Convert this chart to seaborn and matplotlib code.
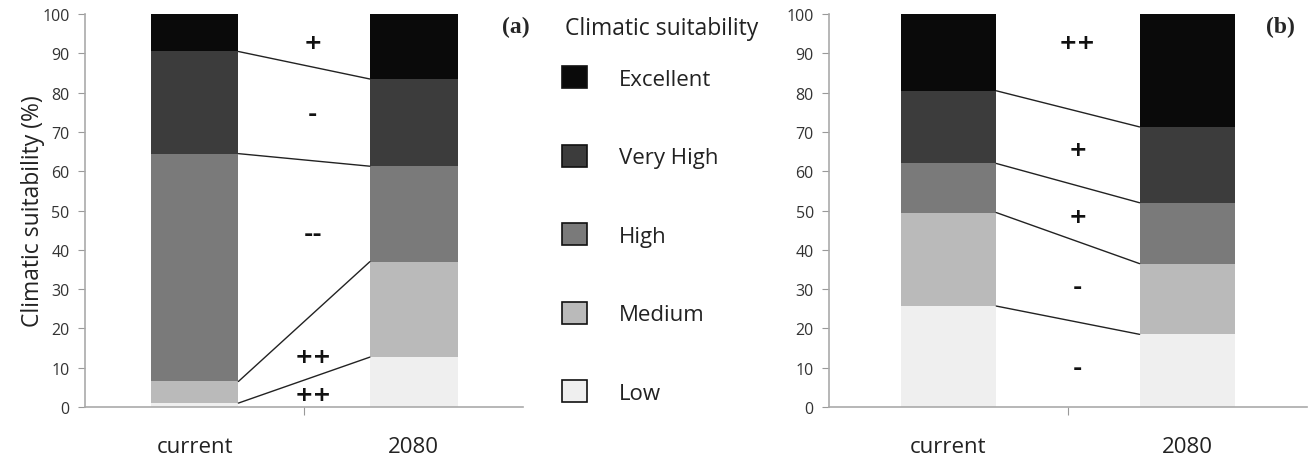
import pandas as pd
import matplotlib.pyplot as plt
import seaborn as sns
from matplotlib.patches import Patch

# categories and values (% of area per suitability class)
classes = ['Low', 'Medium', 'High', 'Very High', 'Excellent']
colors = ['#efefef', '#bababa', '#7a7a7a', '#3c3c3c', '#0a0a0a']
periods = ['current', '2080']

a_current = [1.0, 5.5, 58.0, 26.0, 9.5]
a_2080 = [12.7, 24.3, 24.3, 22.2, 16.5]
b_current = [25.7, 23.8, 12.5, 18.5, 19.5]
b_2080 = [18.5, 18.0, 15.5, 19.3, 28.7]

a_signs = ['++', '++', '--', '-', '+']
b_signs = ['-', '-', '+', '+', '++']
a_sign_y = [3.3, 13, 44, 74.5, 93]
b_sign_y = [9.9, 30.5, 48.6, 65.6, 93]

sns.set_style('white')
plt.rcParams['font.family'] = ['Open Sans', 'DejaVu Sans']

fig = plt.figure(figsize=(13.16, 4.6), dpi=100)
ax1 = fig.add_axes([0.0646, 0.113, 0.333, 0.854])
ax2 = fig.add_axes([0.630, 0.113, 0.363, 0.854])


def draw_panel(ax, cur, fut, signs, sign_y, tag, tag_x, ylabel):
    df = pd.DataFrame({'period': periods * len(classes),
                       'cls': [c for c in classes for _ in periods],
                       'val': [v for pair in zip(cur, fut) for v in pair]})
    df['cum'] = df.groupby('period')['val'].cumsum()
    # draw from the top class down so lower bars overlay the cumulative ones
    for cls, col in list(zip(classes, colors))[::-1]:
        sub = df[df['cls'] == cls]
        sns.barplot(data=sub, x='period', y='cum', order=periods, color=col,
                    width=0.4, ax=ax, errorbar=None, saturation=1,
                    edgecolor='none')
    # connecting lines between class boundaries
    cum_cur = df[df['period'] == 'current'].set_index('cls')['cum']
    cum_fut = df[df['period'] == '2080'].set_index('cls')['cum']
    for cls in classes[:-1]:
        ax.plot([0.2, 0.8], [cum_cur[cls], cum_fut[cls]], color='#222222', lw=1)
    for s, y in zip(signs, sign_y):
        ax.text(0.54, y, s, ha='center', va='center', fontsize=16,
                fontweight='bold', color='#111111', family='DejaVu Sans')
    ax.set_xlim(-0.5, 1.5)
    ax.set_ylim(0, 100)
    ax.set_yticks(range(0, 101, 10))
    ax.set_xticks([0.5])
    ax.set_xticklabels([''])
    for i, p in enumerate(periods):
        ax.text(i, -10, p, ha='center', va='center', fontsize=16,
                color='#222222')
    ax.set_xlabel('')
    ax.set_ylabel(ylabel, fontsize=16.5, color='#222222', labelpad=-2)
    ax.tick_params(axis='y', labelsize=11.5, labelcolor='#333333', length=5,
                   left=True, color='#999999', pad=6)
    ax.tick_params(axis='x', length=6, bottom=True, color='#999999')
    for side in ['top', 'right']:
        ax.spines[side].set_visible(False)
    for side in ['left', 'bottom']:
        ax.spines[side].set_color('#aaaaaa')
        ax.spines[side].set_linewidth(1.2)
    ax.text(tag_x, 97, tag, ha='right', va='center', fontsize=17,
            fontweight='bold', family='Liberation Serif')


draw_panel(ax1, a_current, a_2080, a_signs, a_sign_y, '(a)', 1.53,
           'Climatic suitability (%)')
draw_panel(ax2, b_current, b_2080, b_signs, b_sign_y, '(b)', 1.45, '')

fig.text(0.429, 0.938, 'Climatic suitability', fontsize=16.5,
         ha='left', va='center', color='#222222')
handles = [Patch(facecolor=c, edgecolor='#111111', lw=1.2, label=l)
           for l, c in zip(classes[::-1], colors[::-1])]
leg = fig.legend(handles=handles, loc='center left', bbox_to_anchor=(0.427, 0.487),
                 frameon=False, fontsize=16, labelspacing=2.47,
                 handlelength=1.15, handleheight=1.15, handletextpad=1.4,
                 borderaxespad=0, borderpad=0)
for t in leg.get_texts():
    t.set_color('#222222')

fig.savefig('out.png', dpi=100)
